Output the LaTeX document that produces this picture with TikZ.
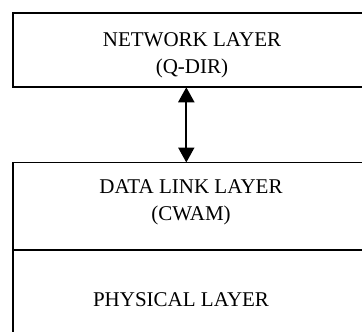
\documentclass[tikz,border=0pt]{standalone}
\usepackage{fontspec}
\setmainfont{Liberation Serif}
\usetikzlibrary{arrows.meta}
\tikzset{
  layer/.style={draw, line width=1.9pt, rectangle, minimum width=358pt, inner sep=0pt, outer sep=0pt},
  layertext/.style={align=center, font=\fontsize{21}{26.5}\selectfont, inner sep=0pt},
  link/.style={{Triangle[length=15pt,width=16pt]}-{Triangle[length=15pt,width=16pt]}, line width=2pt}
}
\begin{document}
\begin{tikzpicture}[x=1pt,y=1pt]
  \useasboundingbox (0,0) rectangle (362,-332);
  % layer boxes (right side runs off the page)
  \node[layer, minimum height=74.5pt] (net) at (192,-50) {};
  \node[layer, minimum height=87.5pt] (dll) at (192,-206.25) {};
  \node[layer, minimum height=100pt, anchor=north] (phy) at (dll.south) {};
  % labels
  \node[layertext] (nettext) at (192,-55.5) {NETWORK LAYER\\(Q-DIR)};
  \node[layertext] (dlltext) at (191,-202.5) {DATA LINK LAYER\\(CWAM)};
  \node[layertext] (phytext) at (181,-300) {PHYSICAL LAYER};
  % link between network and data link layer
  \draw[link] ([xshift=-5.7pt]net.south) -- ([xshift=-5.7pt]dll.north);
\end{tikzpicture}
\end{document}
